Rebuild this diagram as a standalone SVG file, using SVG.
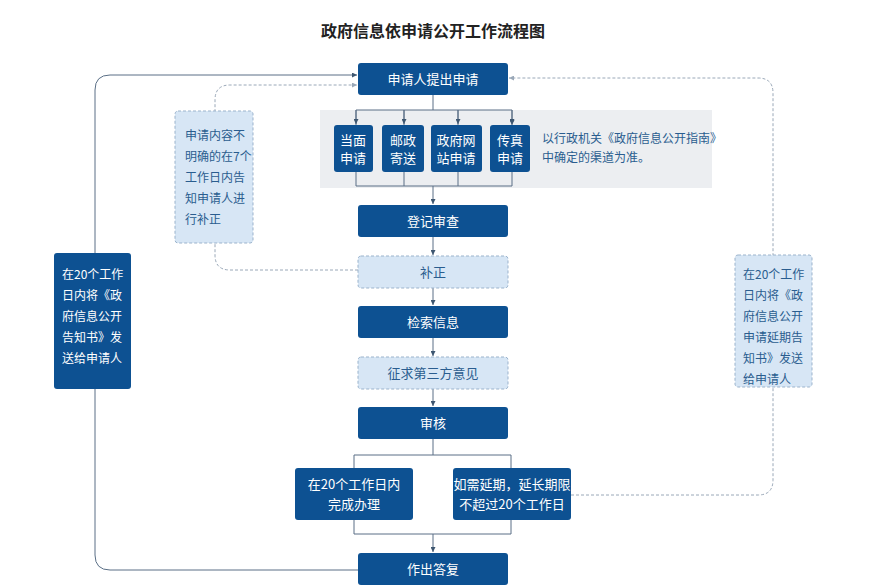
<svg xmlns="http://www.w3.org/2000/svg" width="878" height="587" viewBox="0 0 878 587">
<defs>
<style>
.d{fill:#0d5192;}
.l{fill:#d7e6f5;stroke:#9bb3cc;stroke-dasharray:3 2;}
.t{font-family:"Noto Sans CJK SC",sans-serif;font-size:13px;fill:#fff;text-anchor:middle;}
.tb{font-family:"Noto Sans CJK SC",sans-serif;font-size:13px;fill:#2a5d8f;text-anchor:middle;}
.n{font-family:"Noto Sans CJK SC",sans-serif;font-size:12px;fill:#2a5d8f;}
.c{fill:none;stroke:#5a6f86;stroke-width:1;}
.dc{fill:none;stroke:#9aa8b8;stroke-width:1;stroke-dasharray:3 2;}
</style>
<marker id="a" viewBox="0 0 6 6" refX="6" refY="3" markerWidth="5" markerHeight="5" orient="auto"><path d="M0,0L6,3L0,6z" fill="#3d5670"/></marker>
<marker id="ag" viewBox="0 0 6 6" refX="6" refY="3" markerWidth="5" markerHeight="5" orient="auto"><path d="M0,0L6,3L0,6z" fill="#9aa8b8"/></marker>
</defs>
<rect width="878" height="587" fill="#fff"/>
<text x="433" y="37" font-family="Noto Sans CJK SC,sans-serif" font-size="16" font-weight="bold" fill="#222" text-anchor="middle">政府信息依申请公开工作流程图</text>
<rect x="320" y="110" width="392" height="78" fill="#eceef1"/>
<g id="connectors">
<path class="c" d="M433,95V110M356,110H512M356,110V125M404,110V125M458,110V125M512,110V125" marker-end="url(#a)"/>
<path class="c" d="M356,110V124" marker-end="url(#a)"/><path class="c" d="M404,110V124" marker-end="url(#a)"/><path class="c" d="M458,110V124" marker-end="url(#a)"/><path class="c" d="M512,110V124" marker-end="url(#a)"/>
<path class="c" d="M356,172V186H512V172M404,172V186M458,172V186"/>
<path class="c" d="M433,186V204" marker-end="url(#a)"/>
<path class="c" d="M433,237V255" marker-end="url(#a)"/>
<path class="c" d="M433,288V305" marker-end="url(#a)"/>
<path class="c" d="M433,338V356" marker-end="url(#a)"/>
<path class="c" d="M433,389V406" marker-end="url(#a)"/>
<path class="c" d="M433,439V455M354,468V455H511V468"/>
<path class="c" d="M354,520V534H511V520M433,534V552" marker-end="url(#a)"/>
<path class="c" d="M358,570H110Q95,570 95,555V90Q95,75 110,75H357" marker-end="url(#a)"/>
<path class="dc" d="M358,270H230Q215,270 215,255V100Q215,85 230,85H357" marker-end="url(#ag)"/>
<path class="dc" d="M571,495H758Q773,495 773,480V93Q773,78 758,78H509" marker-end="url(#ag)"/>
</g>
<g id="n1"><rect class="d" x="358" y="63" width="150" height="32" rx="3"/><text class="t" x="433" y="84">申请人提出申请</text></g>
<g id="n2"><rect class="d" x="334" y="125" width="39" height="47" rx="3"/><text class="t" x="353" y="145">当面</text><text class="t" x="353" y="163">申请</text></g>
<g id="n3"><rect class="d" x="382" y="125" width="42" height="47" rx="3"/><text class="t" x="403" y="145">邮政</text><text class="t" x="403" y="163">寄送</text></g>
<g id="n4"><rect class="d" x="431" y="125" width="51" height="47" rx="3"/><text class="t" x="456" y="145">政府网</text><text class="t" x="456" y="163">站申请</text></g>
<g id="n5"><rect class="d" x="490" y="125" width="40" height="47" rx="3"/><text class="t" x="510" y="145">传真</text><text class="t" x="510" y="163">申请</text></g>
<g id="n5b"><text class="n" x="542" y="143">以行政机关《政府信息公开指南》</text><text class="n" x="542" y="162">中确定的渠道为准。</text></g>
<g id="n6"><rect class="d" x="358" y="205" width="150" height="32" rx="3"/><text class="t" x="433" y="226">登记审查</text></g>
<g id="n7"><rect class="l" x="358" y="256" width="150" height="32" rx="3"/><text class="tb" x="433" y="277">补正</text></g>
<g id="n8"><rect class="d" x="358" y="306" width="150" height="32" rx="3"/><text class="t" x="433" y="327">检索信息</text></g>
<g id="n9"><rect class="l" x="358" y="357" width="150" height="32" rx="3"/><text class="tb" x="433" y="378">征求第三方意见</text></g>
<g id="n10"><rect class="d" x="358" y="407" width="150" height="32" rx="3"/><text class="t" x="433" y="428">审核</text></g>
<g id="n11"><rect class="d" x="295" y="468" width="118" height="52" rx="3"/><text class="t" x="354" y="489">在20个工作日内</text><text class="t" x="354" y="509">完成办理</text></g>
<g id="n12"><rect class="d" x="453" y="468" width="118" height="52" rx="3"/><text class="t" x="512" y="489">如需延期，延长期限</text><text class="t" x="512" y="509">不超过20个工作日</text></g>
<g id="n13"><rect class="d" x="358" y="553" width="150" height="32" rx="3"/><text class="t" x="433" y="574">作出答复</text></g>
<g id="n14"><rect class="l" x="175" y="111" width="78" height="132" rx="3"/>
<text class="n" x="185" y="140">申请内容不</text><text class="n" x="185" y="161">明确的在7个</text><text class="n" x="185" y="182">工作日内告</text><text class="n" x="185" y="203">知申请人进</text><text class="n" x="185" y="224">行补正</text></g>
<g id="n15"><rect class="d" x="54" y="253" width="77" height="136" rx="3"/>
<g font-family="Noto Sans CJK SC,sans-serif" font-size="12" fill="#fff"><text x="62" y="279">在20个工作</text><text x="62" y="300">日内将《政</text><text x="62" y="321">府信息公开</text><text x="62" y="342">告知书》发</text><text x="62" y="363">送给申请人</text></g></g>
<g id="n16"><rect class="l" x="735" y="255" width="77" height="132" rx="3"/>
<text class="n" x="743" y="279">在20个工作</text><text class="n" x="743" y="300">日内将《政</text><text class="n" x="743" y="321">府信息公开</text><text class="n" x="743" y="342">申请延期告</text><text class="n" x="743" y="363">知书》发送</text><text class="n" x="743" y="384">给申请人</text></g>
</svg>
